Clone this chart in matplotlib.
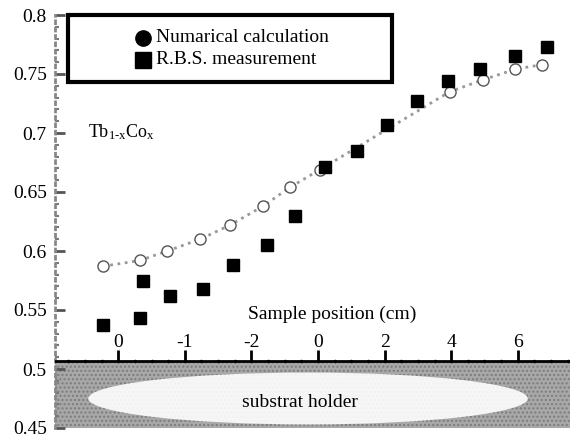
import matplotlib.pyplot as plt
from matplotlib.patches import Ellipse, Rectangle

# axis coordinate: right-hand cm scale; left part (0..-2 cm) is drawn at 2 units per cm
calc_x = [-6.46, -5.35, -4.53, -3.54, -2.64, -1.65, -0.84, 0.06, 3.96, 4.95, 5.92, 6.73]
calc_y = [0.587, 0.592, 0.600, 0.610, 0.622, 0.638, 0.654, 0.669, 0.735, 0.745, 0.754, 0.758]

rbs_x = [-6.46, -5.35, -5.26, -4.44, -3.45, -2.55, -1.53, -0.69, 0.21, 1.17, 2.07, 2.97, 3.90, 4.86, 5.92, 6.88]
rbs_y = [0.537, 0.543, 0.575, 0.562, 0.568, 0.588, 0.605, 0.630, 0.671, 0.685, 0.707, 0.727, 0.744, 0.754, 0.765, 0.773]

pos_ticks = [-6, -4, -2, 0, 2, 4, 6]
pos_labels = ["0", "-1", "-2", "0", "2", "4", "6"]
y_ticks = [0.45, 0.5, 0.55, 0.6, 0.65, 0.7, 0.75, 0.8]
y_labels = ["0.45", "0.5", "0.55", "0.6", "0.65", "0.7", "0.75", "0.8"]
legend_labels = ["Numarical calculation", "R.B.S. measurement"]

plt.rcParams['font.family'] = ['Liberation Serif', 'DejaVu Serif']
plt.rcParams['mathtext.fontset'] = 'custom'
plt.rcParams['mathtext.rm'] = 'Liberation Serif'
plt.rcParams['mathtext.it'] = 'Liberation Serif'

fig = plt.figure(figsize=(5.7, 4.38), dpi=100)
ax = fig.add_axes([0.0965, 10 / 438, 0.9035, 413 / 438])
ax.set_xlim(-7.9, 7.57)
ax.set_ylim(0.45, 0.8)

# substrate holder block
holder_top = 0.507
ax.add_patch(Rectangle((-7.9, 0.45), 15.5, holder_top - 0.45, facecolor='#a8a8a8',
                       edgecolor='#7c7c7c', hatch='....', linewidth=0, zorder=1))
ax.add_patch(Ellipse((-0.3, 0.475), 13.2, 0.044, facecolor='white', edgecolor='none',
                     alpha=0.9, zorder=2))
ax.text(-0.55, 0.472, "substrat holder", ha='center', va='center', fontsize=14, zorder=3)

# sample position scale drawn on top of the holder
ax.axhline(holder_top, color='black', linewidth=2, zorder=4)
minor = [t / 2 for t in range(-15, 16)]
ax.plot(minor, [holder_top] * len(minor), 'k.', markersize=3, zorder=4)
ax.vlines(pos_ticks, holder_top, holder_top + 0.009, color='black', linewidth=2, zorder=4)
for t, lab in zip(pos_ticks, pos_labels):
    ax.text(t, 0.515, lab, ha='center', va='bottom', fontsize=14)
ax.text(0.42, 0.546, "Sample position (cm)", ha='center', va='center', fontsize=14)

# data
ax.plot(calc_x, calc_y, color='#999999', linestyle=':', linewidth=2, marker='o',
        markersize=8, markerfacecolor='white', markeredgecolor='#555555', zorder=5)
ax.plot(rbs_x, rbs_y, linestyle='none', marker='s', markersize=8, color='black', zorder=6)

ax.text(-6.9, 0.701, r"Tb$_{\mathrm{1\text{-}x}}$Co$_{\mathrm{x}}$", fontsize=13, va='center')

# legend box drawn by hand (axes fraction)
ax.add_patch(Rectangle((0.025, 0.837), 0.629, 0.163, transform=ax.transAxes, fill=False,
                       edgecolor='black', linewidth=3, clip_on=False, zorder=7))
ax.plot([0.171], [0.945], 'ko', markersize=11, transform=ax.transAxes, clip_on=False)
ax.plot([0.171], [0.892], 'ks', markersize=11, transform=ax.transAxes, clip_on=False)
ax.text(0.197, 0.945, legend_labels[0], transform=ax.transAxes, fontsize=14, va='center')
ax.text(0.197, 0.892, legend_labels[1], transform=ax.transAxes, fontsize=14, va='center')

# frame
for s in ['top', 'right', 'bottom']:
    ax.spines[s].set_visible(False)
ax.spines['left'].set_color('#888888')
ax.spines['left'].set_linewidth(2)
ax.spines['left'].set_linestyle(':')
ax.set_xticks([])
ax.set_yticks(y_ticks)
ax.set_yticklabels(y_labels)
ax.set_yticks([0.45 + 0.01 * i for i in range(36)], minor=True)
ax.tick_params(axis='y', which='major', direction='in', length=7, width=2, color='#555555',
               labelsize=14, pad=6)
ax.tick_params(axis='y', which='minor', direction='in', length=3, width=1.5, color='#777777')

fig.savefig("out.png", dpi=100)
